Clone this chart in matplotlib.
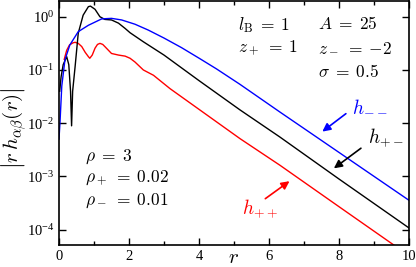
import numpy as np
import matplotlib
matplotlib.use("Agg")
import matplotlib.pyplot as plt
from matplotlib.ticker import FixedLocator, NullLocator, LogFormatterSciNotation

plt.rcParams['font.family'] = 'serif'
plt.rcParams['font.serif'] = ['Liberation Serif', 'DejaVu Serif']
plt.rcParams['mathtext.fontset'] = 'stix'

# |r h_ab(r)|, as log10 values
r_mm = [0.0, 0.03, 0.08, 0.17, 0.31, 0.55, 0.84, 1.22, 1.5, 1.79, 2.17, 2.55, 3.0, 3.5,
        4.03, 4.5, 5.17, 6.31, 7.0, 8.0, 9.0, 10.0]
log_mm = [-2.3, -1.97, -1.3, -0.81, -0.53, -0.28, -0.16, -0.04, -0.03, -0.06, -0.14, -0.25,
          -0.4, -0.58, -0.79, -0.98, -1.27, -1.79, -2.1, -2.55, -3.0, -3.45]

r_pm = [0.02, 0.06, 0.12, 0.22, 0.28, 0.33, 0.36, 0.39, 0.46, 0.55, 0.69, 0.84, 0.9, 1.03,
        1.17, 1.31, 1.5, 1.7, 1.89, 2.03, 2.41, 3.0, 4.0, 5.17, 6.31, 8.0, 10.0]
log_pm = [-1.4, -1.13, -0.9, -0.75, -0.9, -1.4, -2.05, -1.4, -0.94, -0.31, 0.03, 0.19, 0.2, 0.14,
          0.0, -0.05, -0.06, -0.12, -0.22, -0.3, -0.47, -0.72, -1.2, -1.75, -2.26, -3.05, -3.97]

r_pp = [0.15, 0.22, 0.3, 0.4, 0.46, 0.55, 0.65, 0.75, 0.84, 0.88, 0.95, 1.03, 1.1, 1.17, 1.25,
        1.31, 1.5, 1.7, 1.89, 2.03, 2.17, 2.41, 2.7, 3.17, 4.0, 5.17, 6.31, 8.0, 9.5, 10.0]
log_pp = [-0.8, -0.63, -0.53, -0.49, -0.48, -0.5, -0.56, -0.67, -0.75, -0.78, -0.72, -0.59, -0.52,
          -0.5, -0.52, -0.56, -0.69, -0.72, -0.74, -0.78, -0.85, -1.0, -1.1, -1.35, -1.74, -2.29,
          -2.79, -3.57, -4.26, -4.49]

params_top = [r'$l_\mathrm{B}\;=\;1$', r'$A\;=\;25$', r'$z_+\;=\;1$', r'$z_-\;=\;{-2}$',
              r'$\sigma\;=\;0.5$']
params_rho = [r'$\rho\;=\;3$', r'$\rho_+\;=\;0.02$', r'$\rho_-\;=\;0.01$']

fig = plt.figure(figsize=(4.16, 2.67), dpi=100)
ax = fig.add_axes([0.1418, 0.0824, 0.8414, 0.9136])

ax.plot(r_pp, 10 ** np.array(log_pp), color='red', lw=1.0)
ax.plot(r_pm, 10 ** np.array(log_pm), color='black', lw=1.0)
ax.plot(r_mm, 10 ** np.array(log_mm), color='blue', lw=1.0)

ax.set_yscale('log')
ax.set_xlim(0, 10)
ax.set_ylim(10 ** -4.29, 10 ** 0.295)
ax.xaxis.set_major_locator(FixedLocator([0, 2, 4, 6, 8, 10]))
ax.xaxis.set_minor_locator(FixedLocator([1, 3, 5, 7, 9]))
ax.yaxis.set_major_locator(FixedLocator([1e-4, 1e-3, 1e-2, 1e-1, 1e0]))
ax.yaxis.set_major_formatter(LogFormatterSciNotation())
ax.yaxis.set_minor_locator(NullLocator())
ax.tick_params(which='both', direction='in', top=True, right=True, labelsize=10.5, width=1.0)
ax.tick_params(which='major', length=5)
ax.tick_params(which='minor', length=3)
for s in ax.spines.values():
    s.set_linewidth(1.2)

# axis labels placed in figure pixels to sit where the reference has them
fig.text(234 / 416, 1 - 263 / 267, r'$r$', fontsize=15, math_fontfamily='cm',
         ha='center', va='baseline')
fig.text(14 / 416, 1 - 128 / 267, r'$\left|r\,h_{\alpha\beta}(r)\right|$', fontsize=15,
         math_fontfamily='cm', rotation=90, ha='center', va='center')

# parameter block, top right
tk = dict(fontsize=12.5, math_fontfamily='cm', va='center', ha='left')
ax.text(5.1, 10 ** -0.15, params_top[0], **tk)
ax.text(7.4, 10 ** -0.15, params_top[1], **tk)
ax.text(5.1, 10 ** -0.59, params_top[2], **tk)
ax.text(7.4, 10 ** -0.59, params_top[3], **tk)
ax.text(7.4, 10 ** -1.04, params_top[4], **tk)

for i, s in enumerate(params_rho):
    ax.text(0.75, 10 ** (-2.63 - 0.41 * i), s, **tk)

# curve labels with arrows
arr = dict(arrowstyle='-|>', lw=1.2, mutation_scale=12)
ax.annotate('', xy=(7.46, 10 ** -2.19), xytext=(8.26, 10 ** -1.79),
            arrowprops=dict(color='blue', **arr))
ax.text(8.89, 10 ** -1.68, r'$h_{--}$', color='blue', fontsize=14, math_fontfamily='cm',
        ha='center', va='center')
ax.annotate('', xy=(7.79, 10 ** -2.88), xytext=(8.69, 10 ** -2.44),
            arrowprops=dict(color='black', **arr))
ax.text(9.34, 10 ** -2.28, r'$h_{+-}$', color='black', fontsize=14, math_fontfamily='cm',
        ha='center', va='center')
ax.annotate('', xy=(6.65, 10 ** -3.06), xytext=(5.83, 10 ** -3.45),
            arrowprops=dict(color='red', **arr))
ax.text(5.74, 10 ** -3.6, r'$h_{++}$', color='red', fontsize=14, math_fontfamily='cm',
        ha='center', va='center')

fig.savefig('out.png', dpi=100)
